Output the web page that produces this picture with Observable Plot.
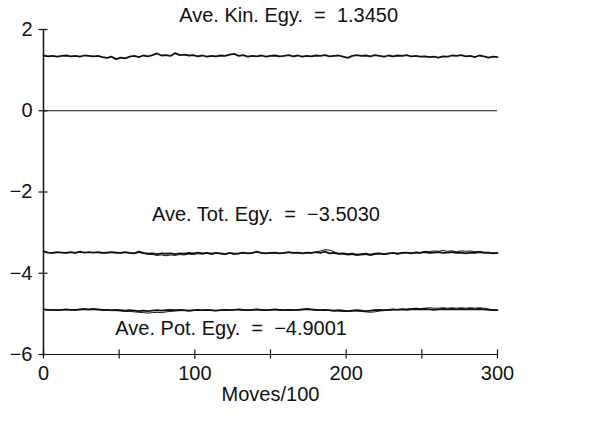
<!DOCTYPE html>
<html>
<head>
<meta charset="utf-8">
<script src="https://cdn.jsdelivr.net/npm/d3@7"></script>
<script src="https://cdn.jsdelivr.net/npm/@observablehq/plot@0.6"></script>
<style>
  html, body { margin: 0; padding: 0; background: #fff; }
  #chart { width: 600px; height: 424px; }
</style>
</head>
<body>
<div id="chart"></div>
<script>
// Moves/100 sampled every 3 units (0..300)
const moves = d3.range(0, 301, 3);

// Kinetic energy trace
const kinetic = [
  1.36,1.34,1.35,1.33,1.35,1.36,1.34,1.35,1.33,1.36,
  1.35,1.34,1.35,1.32,1.30,1.33,1.27,1.31,1.29,1.33,
  1.35,1.32,1.36,1.34,1.37,1.41,1.36,1.37,1.35,1.42,
  1.37,1.38,1.36,1.37,1.34,1.36,1.33,1.35,1.34,1.36,
  1.35,1.38,1.40,1.35,1.37,1.33,1.35,1.34,1.36,1.33,
  1.35,1.36,1.34,1.35,1.37,1.34,1.36,1.33,1.35,1.34,
  1.36,1.35,1.37,1.34,1.35,1.36,1.33,1.30,1.35,1.37,
  1.35,1.36,1.34,1.37,1.35,1.33,1.36,1.34,1.36,1.35,
  1.37,1.34,1.35,1.33,1.34,1.32,1.33,1.31,1.34,1.33,
  1.36,1.35,1.37,1.34,1.35,1.32,1.36,1.34,1.31,1.33,
  1.32];

// Total energy: thick and thin traces
const totalA = [
  -3.46,-3.49,-3.50,-3.48,-3.49,-3.50,-3.48,-3.50,-3.47,-3.49,
  -3.48,-3.49,-3.48,-3.50,-3.49,-3.48,-3.49,-3.50,-3.48,-3.50,
  -3.51,-3.47,-3.50,-3.52,-3.51,-3.53,-3.51,-3.52,-3.51,-3.53,
  -3.51,-3.52,-3.50,-3.51,-3.49,-3.51,-3.50,-3.52,-3.50,-3.51,
  -3.53,-3.50,-3.52,-3.51,-3.49,-3.51,-3.50,-3.47,-3.50,-3.51,
  -3.50,-3.49,-3.51,-3.50,-3.48,-3.50,-3.49,-3.51,-3.49,-3.50,
  -3.48,-3.50,-3.47,-3.51,-3.50,-3.52,-3.51,-3.53,-3.52,-3.54,
  -3.53,-3.52,-3.54,-3.52,-3.51,-3.53,-3.51,-3.50,-3.52,-3.50,
  -3.49,-3.51,-3.49,-3.50,-3.48,-3.50,-3.49,-3.48,-3.50,-3.49,
  -3.48,-3.50,-3.49,-3.51,-3.49,-3.50,-3.48,-3.50,-3.49,-3.51,
  -3.50];
const totalB = [
  -3.47,-3.49,-3.50,-3.49,-3.49,-3.50,-3.49,-3.50,-3.48,-3.49,
  -3.49,-3.49,-3.49,-3.50,-3.50,-3.49,-3.50,-3.50,-3.49,-3.50,
  -3.51,-3.49,-3.51,-3.53,-3.54,-3.56,-3.55,-3.57,-3.55,-3.56,
  -3.54,-3.55,-3.53,-3.54,-3.52,-3.53,-3.51,-3.53,-3.51,-3.52,
  -3.53,-3.51,-3.53,-3.52,-3.50,-3.51,-3.50,-3.48,-3.50,-3.51,
  -3.50,-3.50,-3.51,-3.50,-3.49,-3.50,-3.49,-3.51,-3.50,-3.50,
  -3.48,-3.45,-3.42,-3.43,-3.47,-3.52,-3.53,-3.55,-3.54,-3.56,
  -3.55,-3.54,-3.56,-3.54,-3.52,-3.54,-3.52,-3.51,-3.52,-3.50,
  -3.49,-3.50,-3.48,-3.49,-3.46,-3.47,-3.45,-3.46,-3.44,-3.46,
  -3.45,-3.47,-3.45,-3.46,-3.45,-3.47,-3.46,-3.48,-3.49,-3.50,
  -3.50];

// Potential energy: thick and thin traces
const potentialA = [
  -4.89,-4.90,-4.90,-4.91,-4.90,-4.89,-4.90,-4.90,-4.89,-4.88,
  -4.89,-4.88,-4.89,-4.90,-4.90,-4.91,-4.90,-4.91,-4.92,-4.91,
  -4.92,-4.93,-4.92,-4.93,-4.92,-4.91,-4.92,-4.91,-4.90,-4.91,
  -4.90,-4.91,-4.92,-4.91,-4.90,-4.91,-4.90,-4.91,-4.92,-4.91,
  -4.90,-4.91,-4.90,-4.89,-4.90,-4.91,-4.90,-4.89,-4.90,-4.91,
  -4.90,-4.89,-4.90,-4.91,-4.90,-4.91,-4.90,-4.89,-4.88,-4.89,
  -4.90,-4.91,-4.90,-4.91,-4.92,-4.91,-4.92,-4.93,-4.92,-4.91,
  -4.92,-4.93,-4.92,-4.91,-4.90,-4.91,-4.90,-4.89,-4.90,-4.89,
  -4.90,-4.89,-4.88,-4.89,-4.88,-4.89,-4.90,-4.89,-4.88,-4.89,
  -4.88,-4.89,-4.88,-4.89,-4.88,-4.89,-4.88,-4.89,-4.90,-4.91,
  -4.91];
const potentialB = [
  -4.90,-4.90,-4.91,-4.91,-4.90,-4.90,-4.90,-4.91,-4.90,-4.89,
  -4.90,-4.89,-4.90,-4.91,-4.91,-4.92,-4.92,-4.93,-4.94,-4.94,
  -4.95,-4.96,-4.97,-4.98,-4.97,-4.96,-4.97,-4.95,-4.94,-4.93,
  -4.92,-4.92,-4.93,-4.92,-4.91,-4.92,-4.91,-4.92,-4.92,-4.91,
  -4.91,-4.91,-4.90,-4.90,-4.91,-4.91,-4.90,-4.90,-4.91,-4.91,
  -4.90,-4.90,-4.91,-4.91,-4.90,-4.91,-4.91,-4.90,-4.89,-4.90,
  -4.91,-4.91,-4.91,-4.92,-4.93,-4.93,-4.94,-4.94,-4.93,-4.93,
  -4.94,-4.95,-4.96,-4.95,-4.93,-4.92,-4.91,-4.90,-4.89,-4.88,
  -4.88,-4.87,-4.86,-4.87,-4.86,-4.85,-4.86,-4.86,-4.85,-4.86,
  -4.85,-4.86,-4.85,-4.86,-4.85,-4.86,-4.85,-4.86,-4.88,-4.90,
  -4.91];

const zeroLine = [0];

const xTicks = [0, 50, 100, 150, 200, 250, 300];
const xTickLabels = [0, 100, 200, 300];
const yTicks = [2, 0, -2, -4, -6];

const labels = ["Ave. Kin. Egy.  =  1.3450", "Ave. Tot. Egy.  =  \u22123.5030", "Ave. Pot. Egy.  =  \u22124.9001"];
const labelX = [162, 147, 124];
const labelY = [2.35, -2.55, -5.35];
const xAxisLabel = "Moves/100";

const toRows = (ys) => ys.map((v, i) => ({x: moves[i], y: v}));
const labelRows = labels.map((t, i) => ({text: t, x: labelX[i], y: labelY[i]}));

const ink = "#111";
const font = "'Liberation Sans', Arial, Helvetica, sans-serif";
const noText = () => "";

const chart = Plot.plot({
  width: 600,
  height: 424,
  marginLeft: 43,
  marginRight: 103,
  marginTop: 29,
  marginBottom: 70,
  style: {fontFamily: font, fontSize: "20px", color: ink, background: "#fff", overflow: "visible", whiteSpace: "pre"},
  x: {domain: [0, 300]},
  y: {domain: [-6, 2]},
  marks: [
    // axis lines
    Plot.ruleX([0], {stroke: ink, strokeWidth: 1.5}),
    Plot.ruleY([-6], {stroke: ink, strokeWidth: 1.2}),
    Plot.ruleY(zeroLine, {stroke: ink, strokeWidth: 1.2}),
    // crossing tick marks
    Plot.axisX(xTicks, {tickSize: 9, dy: -4.5, tickFormat: noText, label: null, stroke: ink, strokeWidth: 1.2}),
    Plot.axisY(yTicks, {tickSize: 9, dx: 4.5, tickFormat: noText, label: null, stroke: ink, strokeWidth: 1.2}),
    // tick labels
    Plot.axisX(xTickLabels, {tickSize: 0, tickPadding: 11, label: null, fill: ink, fontSize: 20}),
    Plot.axisY(yTicks, {tickSize: 0, tickPadding: 11, label: null, fill: ink, fontSize: 20}),
    // series
    Plot.line(toRows(totalB), {x: "x", y: "y", stroke: ink, strokeWidth: 1}),
    Plot.line(toRows(potentialB), {x: "x", y: "y", stroke: ink, strokeWidth: 1}),
    Plot.line(toRows(kinetic), {x: "x", y: "y", stroke: ink, strokeWidth: 1.8}),
    Plot.line(toRows(totalA), {x: "x", y: "y", stroke: ink, strokeWidth: 1.8}),
    Plot.line(toRows(potentialA), {x: "x", y: "y", stroke: ink, strokeWidth: 1.8}),
    // annotations
    Plot.text(labelRows, {x: "x", y: "y", text: "text", fill: ink, fontSize: 20, textAnchor: "middle"}),
    Plot.text([xAxisLabel], {frameAnchor: "bottom", dy: 46, fill: ink, fontSize: 20})
  ]
});

document.getElementById("chart").appendChild(chart);
</script>
</body>
</html>
